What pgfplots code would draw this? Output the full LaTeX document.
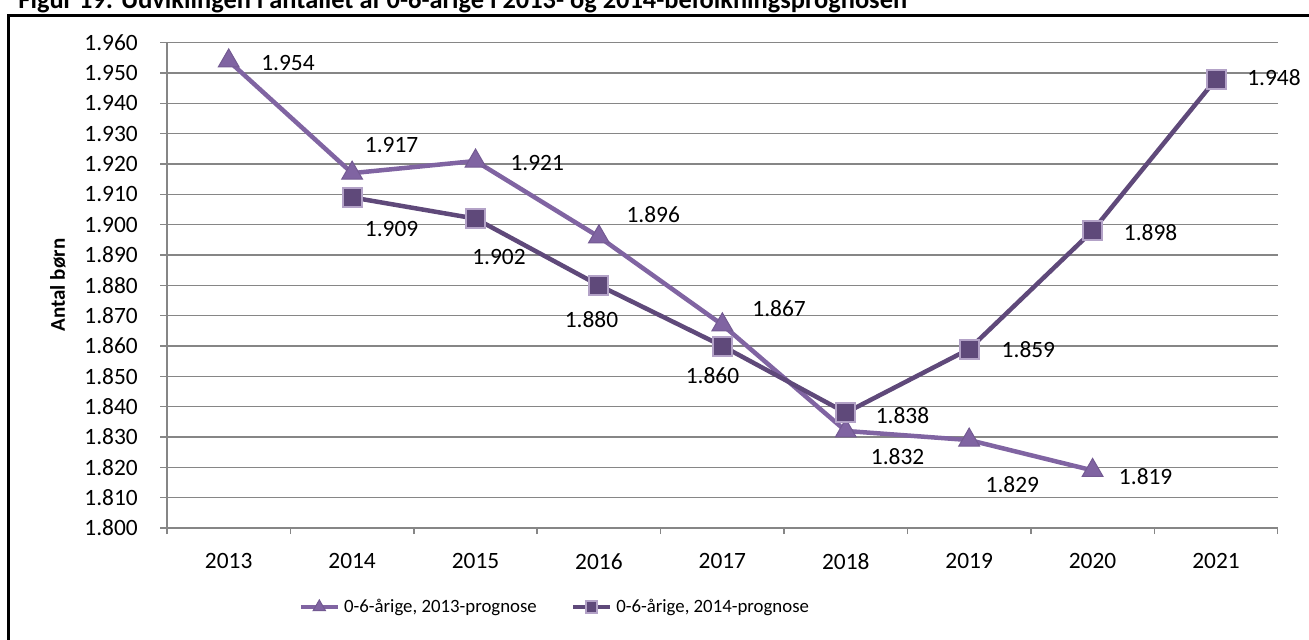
\documentclass[border=0pt]{standalone}
\usepackage{fontspec}
\setmainfont{Carlito}
\usepackage{pgfplots}
\pgfplotsset{compat=1.18}
\definecolor{lilla}{RGB}{128,100,162}
\definecolor{mork}{RGB}{95,73,122}
\definecolor{kant}{RGB}{179,162,199}
\definecolor{gitter}{RGB}{134,134,134}
\newcommand{\tal}{\fontsize{11.7}{14}\selectfont}

\begin{document}
\begin{tikzpicture}
\path[use as bounding box] (0,0) rectangle (654.5pt,-319.5pt);
\clip (0,0) rectangle (654.5pt,-319.5pt);
\node[anchor=base west,inner sep=0pt,font=\fontsize{13.2}{15}\selectfont\bfseries] at (9pt,-4.25pt)
 {Figur 19: Udviklingen i antallet af 0-6-årige i 2013- og 2014-befolkningsprognosen};
\draw[line width=1.5pt] (4pt,-330pt) -- (4pt,-7.5pt) -- (670pt,-7.5pt);
\node[rotate=90,font=\fontsize{10.5}{12}\selectfont\bfseries] at (29pt,-142.5pt) {Antal børn};
\begin{axis}[
 at={(83.5pt,-264pt)},anchor=south west,
 scale only axis,width=555.35pt,height=242.65pt,
 xmin=-0.5,xmax=8.5,ymin=1800,ymax=1960,
 clip=false,
 axis lines*=left,axis line style={gitter,line width=0.75pt},
 xtick={0,...,8},
 xticklabels={2013,2014,2015,2016,2017,2018,2019,2020,2021},
 major x tick style={draw=none},
 minor xtick={-0.5,0.5,...,8.5},
 minor x tick style={gitter,line width=0.75pt},
 ytick={1800,1810,...,1960},
 y tick style={gitter,line width=0.75pt},
 tick align=outside,major tick length=3.5pt,minor tick length=3pt,
 ymajorgrids,major grid style={gitter,line width=0.75pt},
 /pgf/number format/1000 sep={.},
 /pgf/number format/assume math mode=true,
 tick label style={font=\tal},
 yticklabel style={xshift=-7.6pt},
 xticklabel style={yshift=-5.6pt},
 legend style={at={(0.350,-0.163)},anchor=center,draw=none,fill=none,
  legend columns=2,font=\fontsize{9.4}{11}\selectfont,inner sep=0pt,
  /tikz/every even column/.append style={column sep=15pt}},
 legend image code/.code={\draw[mark repeat=2,mark phase=2,#1,every mark/.append style={scale=0.6}]
  plot coordinates {(0pt,0pt) (9.25pt,0pt) (18.5pt,0pt)};},
]
\addplot[lilla,line width=2.25pt,mark=triangle*,mark size=6pt,
 mark options={fill=lilla,draw=lilla!90!black,line width=0.5pt}]
 coordinates {(0,1954) (1,1917) (2,1921) (3,1896) (4,1867) (5,1832) (6,1829) (7,1819)};
\addlegendentry{0-6-årige, 2013-prognose}
\addplot[mork,line width=2.25pt,mark=square*,mark size=4.75pt,
 mark options={fill=mork,draw=kant,line width=1pt}]
 coordinates {(1,1909) (2,1902) (3,1880) (4,1860) (5,1838) (6,1859) (7,1898) (8,1948)};
\addlegendentry{0-6-årige, 2014-prognose}
% placering af dataetiketter
\addplot[forget plot,draw=none,mark=none,nodes near coords,point meta=explicit symbolic,
 every node near coord/.append style={anchor=center,inner sep=0pt,font=\tal,black}]
 table[meta=lab] {
x y lab
0.48 1953.3 1.954
1.32 1926.3 1.917
2.50 1920.3 1.921
3.44 1903.2 1.896
4.46 1872.5 1.867
5.42 1823.7 1.832
6.35 1814.2 1.829
7.43 1816.8 1.819
1.32 1898.6 1.909
2.19 1889.3 1.902
2.94 1868.6 1.880
3.92 1850.4 1.860
5.46 1836.9 1.838
6.48 1858.7 1.859
7.47 1897.3 1.898
8.47 1948.4 1.948
};
\end{axis}
\end{tikzpicture}
\end{document}
